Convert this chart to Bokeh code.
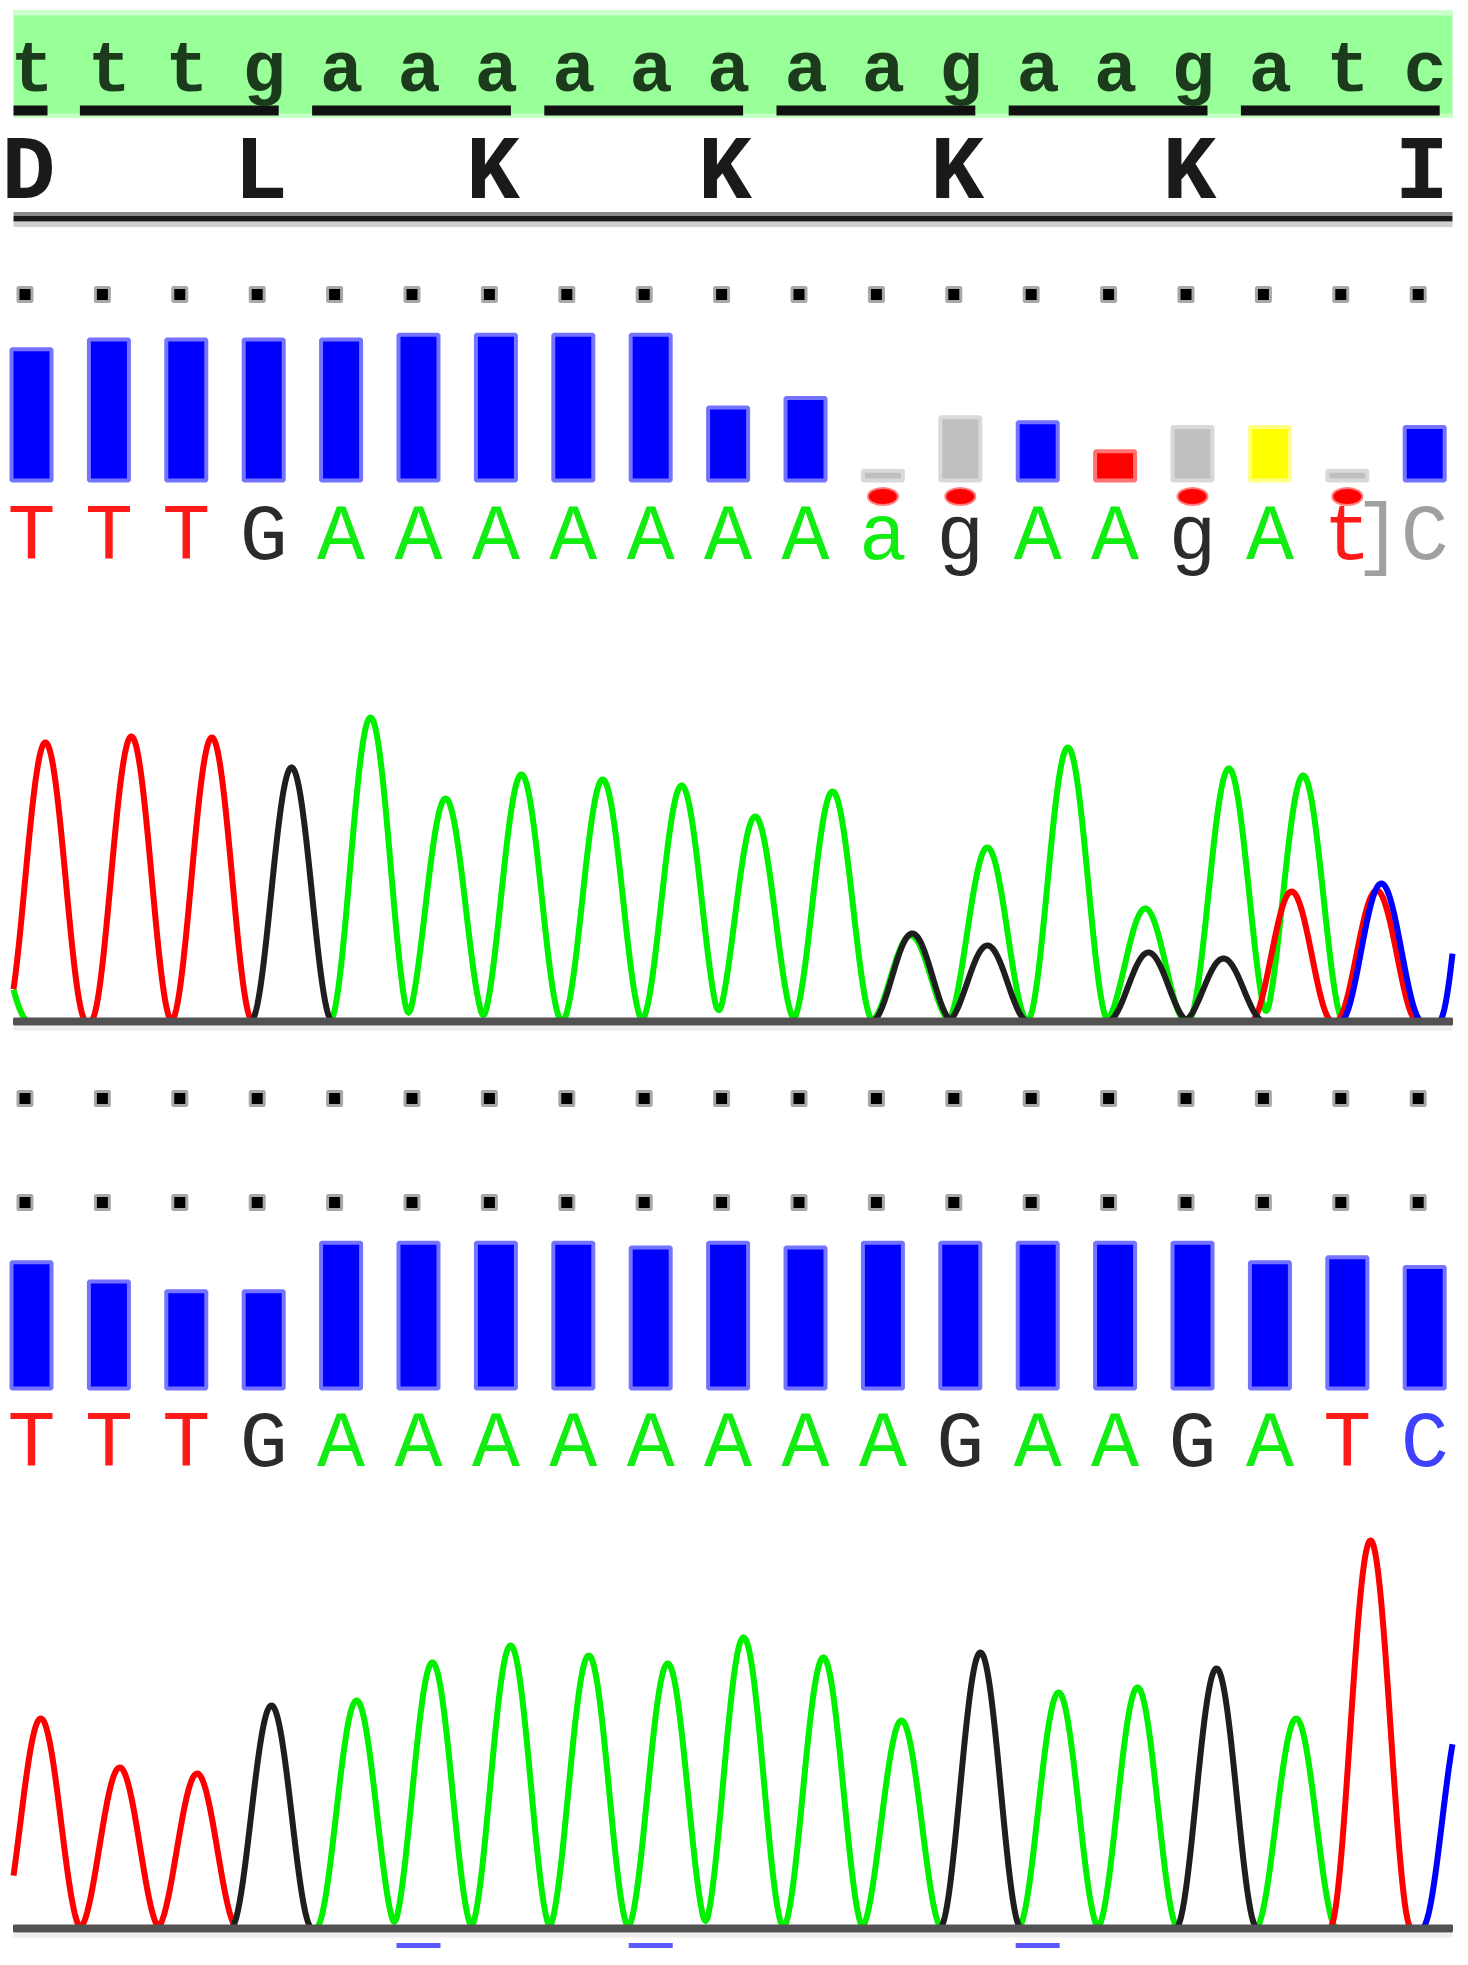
import numpy as np
from bokeh.plotting import figure
from bokeh.models import Range1d, ColumnDataSource
from bokeh.core.properties import value
from bokeh.embed import file_html
from bokeh.resources import INLINE

# ---------------- data ----------------
ref_seq = list("tttgaaaaaaaagaagatc")
aa_pos = [0, 3, 6, 9, 12, 15, 18]
aa_letters = ["D", "L", "K", "K", "K", "K", "I"]
codon_starts = [1, 4, 7, 10, 13, 16]

calls1 = ["T", "T", "T", "G", "A", "A", "A", "A", "A", "A", "A", "a", "g", "A", "A", "g", "A", "t", "C"]
qual1 = [54, 58, 58, 58, 58, 60, 60, 60, 60, 30, 34, 4, 26, 24, 12, 22, 22, 4, 22]
qkind1 = ["hi"] * 11 + ["low", "low", "hi", "mid", "low", "warn", "low", "hi"]
flagged1 = [11, 12, 15, 17]

calls2 = list("TTTGAAAAAAAAGAAGATC")
qual2 = [52, 44, 40, 40, 60, 60, 60, 60, 58, 60, 58, 60, 60, 60, 60, 60, 52, 54, 50]
marks2 = [5, 8, 13]

# chromatogram peaks: position (base units) and height (signal)
t1_red_pos = [0.18, 1.29, 2.33, 16.28, 17.38]
t1_red_h = [279, 285, 284, 130, 131]
t1_blk_pos = [3.36, 11.38, 12.35, 14.43, 15.40]
t1_blk_h = [254, 88, 76, 69, 63]
t1_grn_pos = [-0.56, 4.38, 5.35, 6.33, 7.38, 8.40, 9.35, 10.35, 11.36, 12.35, 13.39, 14.39, 15.47, 16.43]
t1_grn_h = [100, 304, 223, 247, 242, 236, 205, 230, 86, 174, 274, 113, 253, 246]
t1_blu_pos = [17.44, 18.71]
t1_blu_h = [138, 265]

t2_red_pos = [0.12, 1.14, 2.14, 17.30]
t2_red_h = [210, 161, 155, 388]
t2_blk_pos = [3.10, 12.26, 15.31]
t2_blk_h = [223, 276, 260]
t2_grn_pos = [4.20, 5.18, 6.19, 7.20, 8.22, 9.20, 10.23, 11.24, 13.27, 14.29, 16.34]
t2_grn_h = [228, 266, 283, 273, 265, 291, 271, 208, 236, 241, 210]
t2_blu_pos = [18.49]
t2_blu_h = [215]

# ---------------- layout / style ----------------
W_PX, H_PX = 1468, 1965
PX = 77.4                 # pixels per base
C0 = 31.0                 # screen x of base 0
X0 = (0 - C0) / PX
X1 = (W_PX - C0) / PX
XL = (13 - C0) / PX       # content left edge
XR = (1452 - C0) / PX     # content right edge

BAND_TOP, BAND_BOT = 10, 117
SEQ_BASE = 93
ULINE_Y = 110
AA_BASE = 200
DOT1 = 294
BAR1_BOT = 480
FLAG_Y = 496
CALL1_BASE = 560
TRACE1_BASE = 1021
DOT2 = 1098
DOT3 = 1202
BAR2_BOT = 1388
CALL2_BASE = 1467
TRACE2_BASE = 1928
MARK_Y = 1945
QV_PX = 2.43
HALF_W = 41 / PX
BAR_W = 40 / PX
# the renderer puts the "alphabetic" anchor below the glyph baseline; compensate
DROP_SEQ, DROP_AA, DROP_CALL = 22, 27, 23

FONT = value("Liberation Mono")

fill_map = {"hi": "#0000ff", "low": "#c0c0c0", "mid": "#ff0000", "warn": "#ffff00"}
edge_map = {"hi": "#7373ff", "low": "#d9d9d9", "mid": "#ff7373", "warn": "#ffff88"}
call_col = {"T": "#ff1a1a", "t": "#ff1a1a", "A": "#12ec12", "a": "#12ec12",
            "G": "#2b2b2b", "g": "#2b2b2b", "C": "#4040ff"}

p = figure(width=W_PX, height=H_PX, output_backend="svg", toolbar_location=None,
           x_range=Range1d(X0, X1), y_range=Range1d(H_PX, 0), min_border=0)
p.axis.visible = False
p.grid.visible = False
p.outline_line_color = None
p.background_fill_color = "white"

idx = np.arange(len(ref_seq))

# ---- header: reference sequence band ----
p.quad(left=XL, right=XR, top=BAND_TOP, bottom=BAND_BOT, fill_color="#99ff99", line_color=None)
p.quad(left=XL, right=XR, top=BAND_TOP, bottom=BAND_TOP + 5, fill_color="#ccffcc", line_color=None)
p.quad(left=XL, right=XR, top=BAND_BOT - 4, bottom=BAND_BOT, fill_color="#c2ffc2", line_color=None)

# codon underlines
seg_x0 = [XL] + [s - 29 / PX for s in codon_starts]
seg_x1 = [0 + 16 / PX] + [s + 2 + 15 / PX for s in codon_starts]
p.segment(x0=seg_x0, x1=seg_x1, y0=ULINE_Y, y1=ULINE_Y, line_color="#111111", line_width=10)

p.text(x=idx + 0.5 / PX, y=SEQ_BASE - DROP_SEQ, text=ref_seq, text_align="center",
       text_baseline="alphabetic", text_font=FONT, text_font_style="bold",
       text_font_size="72px", text_color="#1c3a1c")

# amino acids
p.text(x=np.array(aa_pos) - 3 / PX, y=AA_BASE - DROP_AA, text=aa_letters, text_align="center",
       text_baseline="alphabetic", text_font=FONT, text_font_style="bold",
       text_font_size="90px", text_color="#1a1a1a")

# double rule
p.segment(x0=XL, x1=XR, y0=213, y1=213, line_color="#8a8a8a", line_width=3)
p.segment(x0=XL, x1=XR, y0=218, y1=218, line_color="#1a1a1a", line_width=6)
p.segment(x0=XL, x1=XR, y0=224, y1=224, line_color="#d0d0d0", line_width=5)

# ---- dots rows ----
for yy in (DOT1, DOT2, DOT3):
    p.scatter(x=idx - 6.5 / PX, y=yy, marker="square", size=14, fill_color="#000000",
              line_color="#a8a8a8", line_width=3)

# ---- quality bars ----
def bars(qual, kinds, bottom):
    src = ColumnDataSource(dict(
        x=idx, top=[bottom - q * QV_PX for q in qual],
        fill=[fill_map[k] for k in kinds], edge=[edge_map[k] for k in kinds]))
    p.vbar(x="x", width=BAR_W, bottom=bottom, top="top", fill_color="fill",
           line_color="edge", line_width=4, source=src)

bars(qual1, qkind1, BAR1_BOT)
bars(qual2, ["hi"] * len(qual2), BAR2_BOT)

# red flags below uncertain calls
p.ellipse(x=flagged1, y=FLAG_Y, width=30 / PX, height=17, fill_color="#ff0000",
          line_color="#ff8080", line_width=2)

# ---- base calls ----
col1 = [call_col[c] for c in calls1]
col1[-1] = "#a0a0a0"
p.text(x=idx, y=CALL1_BASE - DROP_CALL, text=calls1, text_align="center", text_baseline="alphabetic",
       text_font=FONT, text_font_size="80px", text_color=col1)
p.text(x=[17 + 0.4], y=CALL1_BASE - DROP_CALL, text=["]"], text_align="center",
       text_baseline="alphabetic", text_font=FONT, text_font_size="80px", text_color="#a0a0a0")

col2 = [call_col[c] for c in calls2]
p.text(x=idx, y=CALL2_BASE - DROP_CALL, text=calls2, text_align="center", text_baseline="alphabetic",
       text_font=FONT, text_font_size="80px", text_color=col2)

# ---- chromatograms ----
xs = np.linspace(XL, XR, 1600)

def curve(pos, hts):
    y = np.zeros_like(xs)
    for c, h in zip(pos, hts):
        d = np.abs(xs - c)
        y += np.where(d < HALF_W, h * np.cos(np.pi * d / (2 * HALF_W)) ** 2, 0.0)
    return y

def chromatogram(base, red, blk, grn, blu):
    for (pos, hts), colr in ((grn, "#00f000"), (red, "#ff0000"), (blk, "#1e1e1e"), (blu, "#0000ff")):
        p.line(xs, base - curve(pos, hts), line_color=colr, line_width=6, line_join="miter")
    p.segment(x0=XL, x1=XR, y0=base, y1=base, line_color="#525252", line_width=8)
    p.segment(x0=XL, x1=XR, y0=base + 7, y1=base + 7, line_color="#eeeeee", line_width=4)

chromatogram(TRACE1_BASE, (t1_red_pos, t1_red_h), (t1_blk_pos, t1_blk_h),
             (t1_grn_pos, t1_grn_h), (t1_blu_pos, t1_blu_h))
chromatogram(TRACE2_BASE, (t2_red_pos, t2_red_h), (t2_blk_pos, t2_blk_h),
             (t2_grn_pos, t2_grn_h), (t2_blu_pos, t2_blu_h))

# blue marks under the lower trace
p.segment(x0=np.array(marks2) - 22 / PX, x1=np.array(marks2) + 22 / PX, y0=MARK_Y, y1=MARK_Y,
          line_color="#5a5aff", line_width=5)

open("out.html", "w").write(file_html(p, INLINE))
